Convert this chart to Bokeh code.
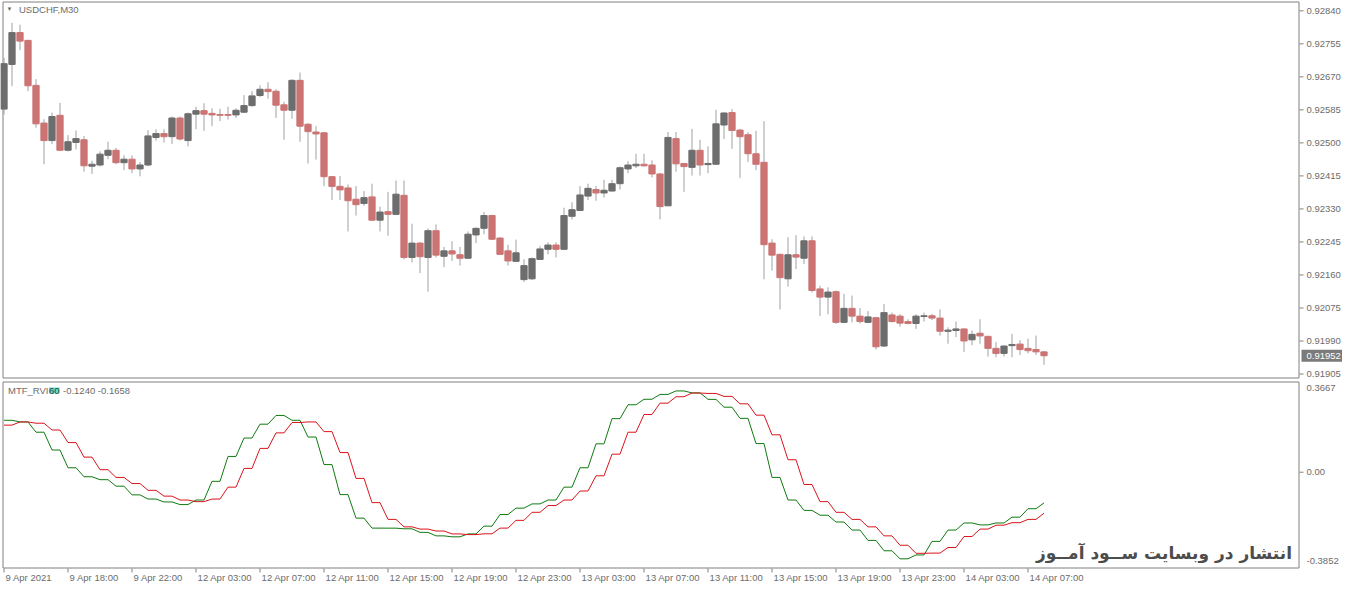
import numpy as np
from bokeh.plotting import figure
from bokeh.layouts import column
from bokeh.models import Range1d, Label, ColumnDataSource
from bokeh.core.properties import value
from bokeh.embed import file_html
from bokeh.resources import INLINE

symbol = "USDCHF,M30"
indicator_name = "MTF_RVI"
indicator_tf = "60"
indicator_values = "-0.1240 -0.1658"
watermark = "انتشار در وبسایت ســود آمــوز"

# M30 candles, oldest first
opens = [0.92587, 0.92702, 0.92784, 0.92764, 0.92648, 0.92551, 0.92506, 0.92571, 0.92481, 0.92501,
         0.92508, 0.92440, 0.92443, 0.92468, 0.92481, 0.92449, 0.92458, 0.92433, 0.92443, 0.92514,
         0.92524, 0.92516, 0.92564, 0.92506, 0.92574, 0.92583, 0.92576, 0.92573, 0.92573, 0.92572,
         0.92579, 0.92596, 0.92622, 0.92638, 0.92633, 0.92598, 0.92584, 0.92661, 0.92548, 0.92528,
         0.92526, 0.92413, 0.92388, 0.92384, 0.92355, 0.92344, 0.92361, 0.92301, 0.92323, 0.92316,
         0.92365, 0.92205, 0.92242, 0.92205, 0.92274, 0.92208, 0.92222, 0.92212, 0.92203, 0.92263,
         0.92280, 0.92313, 0.92255, 0.92222, 0.92195, 0.92148, 0.92150, 0.92200, 0.92226, 0.92237,
         0.92226, 0.92311, 0.92326, 0.92363, 0.92380, 0.92371, 0.92376, 0.92395, 0.92433, 0.92441,
         0.92445, 0.92443, 0.92420, 0.92338, 0.92511, 0.92447, 0.92437, 0.92481, 0.92444, 0.92445,
         0.92546, 0.92578, 0.92533, 0.92521, 0.92472, 0.92450, 0.92242, 0.92213, 0.92150, 0.92212,
         0.92203, 0.92248, 0.92124, 0.92103, 0.92117, 0.92038, 0.92074, 0.92054, 0.92038, 0.92050,
         0.91977, 0.92057, 0.92054, 0.92040, 0.92035, 0.92053, 0.92055, 0.92049, 0.92015, 0.92017,
         0.92021, 0.91993, 0.92010, 0.92002, 0.91971, 0.91958, 0.91978, 0.91982, 0.91971, 0.91968,
         0.91962]
highs = [0.92719, 0.92809, 0.92804, 0.92764, 0.92664, 0.92561, 0.92578, 0.92603, 0.92520, 0.92532,
         0.92518, 0.92454, 0.92478, 0.92503, 0.92487, 0.92468, 0.92468, 0.92451, 0.92533, 0.92535,
         0.92535, 0.92568, 0.92568, 0.92578, 0.92593, 0.92602, 0.92589, 0.92588, 0.92593, 0.92589,
         0.92623, 0.92633, 0.92648, 0.92656, 0.92638, 0.92606, 0.92664, 0.92681, 0.92551, 0.92543,
         0.92528, 0.92415, 0.92415, 0.92393, 0.92389, 0.92376, 0.92395, 0.92336, 0.92374, 0.92403,
         0.92403, 0.92292, 0.92245, 0.92280, 0.92290, 0.92232, 0.92247, 0.92232, 0.92272, 0.92282,
         0.92322, 0.92315, 0.92257, 0.92238, 0.92251, 0.92200, 0.92205, 0.92234, 0.92244, 0.92244,
         0.92333, 0.92347, 0.92389, 0.92395, 0.92389, 0.92405, 0.92405, 0.92439, 0.92453, 0.92472,
         0.92472, 0.92455, 0.92423, 0.92528, 0.92528, 0.92448, 0.92536, 0.92508, 0.92491, 0.92585,
         0.92578, 0.92587, 0.92536, 0.92528, 0.92531, 0.92556, 0.92252, 0.92215, 0.92257, 0.92262,
         0.92259, 0.92259, 0.92132, 0.92128, 0.92120, 0.92111, 0.92107, 0.92075, 0.92067, 0.92052,
         0.92085, 0.92063, 0.92059, 0.92046, 0.92059, 0.92063, 0.92060, 0.92071, 0.92025, 0.92040,
         0.92022, 0.92017, 0.92046, 0.92003, 0.91987, 0.91979, 0.92008, 0.91992, 0.91996, 0.92004,
         0.91964]
lows = [0.92573, 0.92646, 0.92739, 0.92633, 0.92539, 0.92445, 0.92497, 0.92479, 0.92478, 0.92483,
        0.92426, 0.92420, 0.92439, 0.92458, 0.92445, 0.92430, 0.92422, 0.92414, 0.92440, 0.92506,
        0.92501, 0.92497, 0.92506, 0.92491, 0.92535, 0.92531, 0.92543, 0.92556, 0.92560, 0.92564,
        0.92577, 0.92593, 0.92618, 0.92614, 0.92564, 0.92508, 0.92562, 0.92503, 0.92447, 0.92457,
        0.92389, 0.92353, 0.92353, 0.92272, 0.92313, 0.92338, 0.92300, 0.92272, 0.92261, 0.92315,
        0.92200, 0.92192, 0.92165, 0.92117, 0.92205, 0.92180, 0.92196, 0.92184, 0.92202, 0.92242,
        0.92265, 0.92250, 0.92212, 0.92184, 0.92194, 0.92142, 0.92147, 0.92199, 0.92213, 0.92205,
        0.92224, 0.92303, 0.92325, 0.92353, 0.92351, 0.92359, 0.92375, 0.92380, 0.92422, 0.92435,
        0.92439, 0.92411, 0.92303, 0.92337, 0.92426, 0.92374, 0.92416, 0.92416, 0.92422, 0.92444,
        0.92510, 0.92485, 0.92410, 0.92451, 0.92430, 0.92149, 0.92171, 0.92071, 0.92130, 0.92175,
        0.92188, 0.92115, 0.92054, 0.92059, 0.92034, 0.92037, 0.92038, 0.92035, 0.92037, 0.91968,
        0.91975, 0.92038, 0.92027, 0.92033, 0.92021, 0.92040, 0.92044, 0.92004, 0.91983, 0.92000,
        0.91962, 0.91979, 0.91983, 0.91950, 0.91948, 0.91950, 0.91948, 0.91954, 0.91958, 0.91954,
        0.91929]
closes = [0.92704, 0.92784, 0.92762, 0.92647, 0.92549, 0.92506, 0.92568, 0.92481, 0.92503, 0.92511,
          0.92441, 0.92445, 0.92471, 0.92481, 0.92449, 0.92458, 0.92433, 0.92443, 0.92518, 0.92524,
          0.92516, 0.92564, 0.92510, 0.92575, 0.92583, 0.92574, 0.92572, 0.92571, 0.92571, 0.92584,
          0.92596, 0.92621, 0.92638, 0.92632, 0.92597, 0.92584, 0.92661, 0.92543, 0.92529, 0.92523,
          0.92413, 0.92388, 0.92379, 0.92351, 0.92341, 0.92359, 0.92301, 0.92322, 0.92316, 0.92368,
          0.92205, 0.92242, 0.92207, 0.92274, 0.92211, 0.92222, 0.92214, 0.92203, 0.92265, 0.92280,
          0.92313, 0.92252, 0.92213, 0.92196, 0.92217, 0.92184, 0.92202, 0.92227, 0.92237, 0.92226,
          0.92313, 0.92328, 0.92366, 0.92383, 0.92371, 0.92378, 0.92395, 0.92436, 0.92443, 0.92445,
          0.92441, 0.92420, 0.92336, 0.92514, 0.92446, 0.92439, 0.92481, 0.92443, 0.92447, 0.92549,
          0.92577, 0.92532, 0.92516, 0.92472, 0.92445, 0.92238, 0.92211, 0.92153, 0.92212, 0.92206,
          0.92248, 0.92120, 0.92103, 0.92116, 0.92038, 0.92074, 0.92054, 0.92040, 0.92052, 0.91975,
          0.92063, 0.92040, 0.92036, 0.92035, 0.92054, 0.92055, 0.92049, 0.92015, 0.92018, 0.92021,
          0.91990, 0.92007, 0.92003, 0.91971, 0.91958, 0.91977, 0.91981, 0.91968, 0.91965, 0.91962,
          0.91952]
last_price = 0.91952

# MTF RVI, one value per H1 bar (each H1 bar covers two M30 candles)
rvi_h1 = [0.2099, 0.2032, 0.1617, 0.0897, 0.0180, -0.0184, -0.0302, -0.0564, -0.0916, -0.1085,
          -0.1202, -0.1308, -0.1124, -0.0368, 0.0638, 0.1382, 0.1942, 0.2295, 0.2099, 0.1422,
          0.0309, -0.0905, -0.1856, -0.2260, -0.2262, -0.2287, -0.2432, -0.2573, -0.2612, -0.2494,
          -0.2181, -0.1711, -0.1453, -0.1281, -0.1124, -0.0603, 0.0180, 0.1147, 0.2166, 0.2726,
          0.2949, 0.3145, 0.3286, 0.3207, 0.2945, 0.2628, 0.2177, 0.1159, -0.0211, -0.1124,
          -0.1543, -0.1739, -0.2013, -0.2338, -0.2757, -0.3176, -0.3501, -0.3344, -0.2796, -0.2338,
          -0.2052, -0.2130, -0.2052, -0.1817, -0.1476, -0.1240]
signal_h1 = [0.1903, 0.2032, 0.1981, 0.1707, 0.1198, 0.0611, 0.0102, -0.0211, -0.0458, -0.0732,
             -0.0967, -0.1124, -0.1190, -0.1085, -0.0603, 0.0153, 0.0963, 0.1590, 0.2009, 0.2032,
             0.1641, 0.0795, -0.0251, -0.1230, -0.1907, -0.2209, -0.2299, -0.2377, -0.2494, -0.2522,
             -0.2490, -0.2260, -0.1946, -0.1621, -0.1347, -0.1124, -0.0760, -0.0145, 0.0728, 0.1617,
             0.2334, 0.2792, 0.3051, 0.3200, 0.3184, 0.3066, 0.2765, 0.2307, 0.1512, 0.0505,
             -0.0497, -0.1190, -0.1621, -0.1907, -0.2209, -0.2573, -0.2953, -0.3278, -0.3270, -0.3043,
             -0.2600, -0.2299, -0.2142, -0.2040, -0.1907, -0.1658]

time_labels = ["9 Apr 2021", "9 Apr 18:00", "9 Apr 22:00", "12 Apr 03:00", "12 Apr 07:00",
               "12 Apr 11:00", "12 Apr 15:00", "12 Apr 19:00", "12 Apr 23:00", "13 Apr 03:00",
               "13 Apr 07:00", "13 Apr 11:00", "13 Apr 15:00", "13 Apr 19:00", "13 Apr 23:00",
               "14 Apr 03:00", "14 Apr 07:00"]
time_label_bars = [0, 8, 16, 24, 32, 40, 48, 56, 64, 72, 80, 88, 96, 104, 112, 120, 128]

price_ticks = [0.92840, 0.92755, 0.92670, 0.92585, 0.92500, 0.92415, 0.92330,
               0.92245, 0.92160, 0.92075, 0.91990, 0.91905]
price_lo, price_hi = 0.91896, 0.92864
rvi_lo, rvi_hi = -0.3852, 0.3667

FONT = "Liberation Sans"
FS = "9.5px"
TEXT = "#6c6c6c"
FRAME = "#808080"
BULL = "#6d6d6d"
BEAR = "#cc7373"
WICK = "#a0a0a0"
GREEN = "#107a10"
RED = "#d8141c"

# pixel layout: both panes span the whole width, the scale column sits inside them
W = 1342
H_P, H_I = 380, 208
BAR_PX = 8
BOX_L, BOX_R = 2.5, 1298.5
x0 = -(2 + 1.5) / BAR_PX
xr = Range1d(x0, x0 + W / BAR_PX)

dy1 = (price_hi - price_lo) / 376
y1_top = price_hi + 1 * dy1
dy2 = (rvi_hi - rvi_lo) / 186
y2_top = rvi_hi + 1 * dy2


def fx(px):
    return x0 + px / BAR_PX


def py1(px):
    return y1_top - px * dy1


def py2(px):
    return y2_top - px * dy2


def pane(height, y_start, y_end):
    f = figure(width=W, height=height, x_range=xr, y_range=Range1d(y_start, y_end),
               x_axis_location=None, y_axis_location=None, output_backend="svg",
               toolbar_location=None, min_border=0, outline_line_color=None,
               background_fill_color="white", border_fill_color="white")
    f.grid.visible = False
    return f


def texts(f, xs, ys, labels, color=TEXT, align="left", size=FS):
    f.text(x=xs, y=ys, text=labels, text_font=value(FONT), text_font_size=value(size),
           text_color=color, text_align=align, text_baseline="middle")


def box(f, top, bottom):
    f.quad(left=fx(BOX_L), right=fx(BOX_R), top=top, bottom=bottom,
           fill_color=None, line_color=FRAME, line_width=1)


# price pane
p = pane(H_P, py1(H_P), y1_top)
box(p, py1(1.5), py1(377.5))

n = len(opens)
o = np.array(opens)
c = np.array(closes)
src = ColumnDataSource(dict(x=np.arange(n), h=highs, l=lows,
                            top=np.maximum(o, c), bottom=np.minimum(o, c),
                            color=np.where(c > o, BULL, BEAR)))
p.segment("x", "h", "x", "l", source=src, color=WICK, line_width=1)
p.vbar("x", 0.78, "top", "bottom", source=src, fill_color="color", line_color="color", line_width=1)

# price scale
p.segment(x0=[fx(1299)] * len(price_ticks), y0=price_ticks,
          x1=[fx(1303)] * len(price_ticks), y1=price_ticks, color=FRAME, line_width=1)
texts(p, [fx(1306)] * len(price_ticks), price_ticks, ["%.5f" % t for t in price_ticks])
p.quad(left=fx(1301), right=fx(W), top=last_price + 6 * dy1, bottom=last_price - 6 * dy1,
       fill_color="#7b7b7b", line_color=None)
texts(p, [fx(1306)], [last_price], ["%.5f" % last_price], color="white")

texts(p, [fx(9)], [py1(8.5)], ["▼"], align="center", size="6px")
texts(p, [fx(18.5)], [py1(8.5)], [symbol])

# indicator pane
q = pane(H_I, py2(H_I), y2_top)
box(q, py2(1.5), py2(187.5))

rvi = np.repeat(rvi_h1, 2)[:n]
sig = np.repeat(signal_h1, 2)[:n]
q.line(np.arange(n), rvi, color=GREEN, line_width=1)
q.line(np.arange(n), sig, color=RED, line_width=1)

q.segment(x0=[fx(1299)], y0=[0.0], x1=[fx(1303)], y1=[0.0], color=FRAME, line_width=1)
texts(q, [fx(1306)] * 3, [py2(7.5), 0.0, py2(180.5)],
      ["%.4f" % rvi_hi, "0.00", "%.4f" % rvi_lo])

# time scale under the indicator pane
tb = np.array(time_label_bars)
q.segment(x0=tb, y0=[py2(188)] * len(tb), x1=tb, y1=[py2(192)] * len(tb), color=FRAME, line_width=1)
texts(q, tb + 0.2, [py2(197)] * len(tb), time_labels)

ly = py2(10)
texts(q, [fx(7.5)], [ly], [indicator_name])
q.add_layout(Label(x=fx(48.5), y=ly, text=indicator_tf, text_font=FONT, text_font_size=FS,
                   text_color="#3a3a3a", text_baseline="middle", background_fill_color="#5fe2c8"))
texts(q, [fx(62.5)], [ly], [indicator_values])

q.add_layout(Label(x=fx(BOX_R - 7), y=py2(182), text=watermark,
                   text_font="DejaVu Sans", text_font_size="17px", text_font_style="bold",
                   text_color="#4c4c4c", text_align="right", text_baseline="bottom"))

layout = column(p, q)
open("out.html", "w").write(file_html(layout, INLINE))
